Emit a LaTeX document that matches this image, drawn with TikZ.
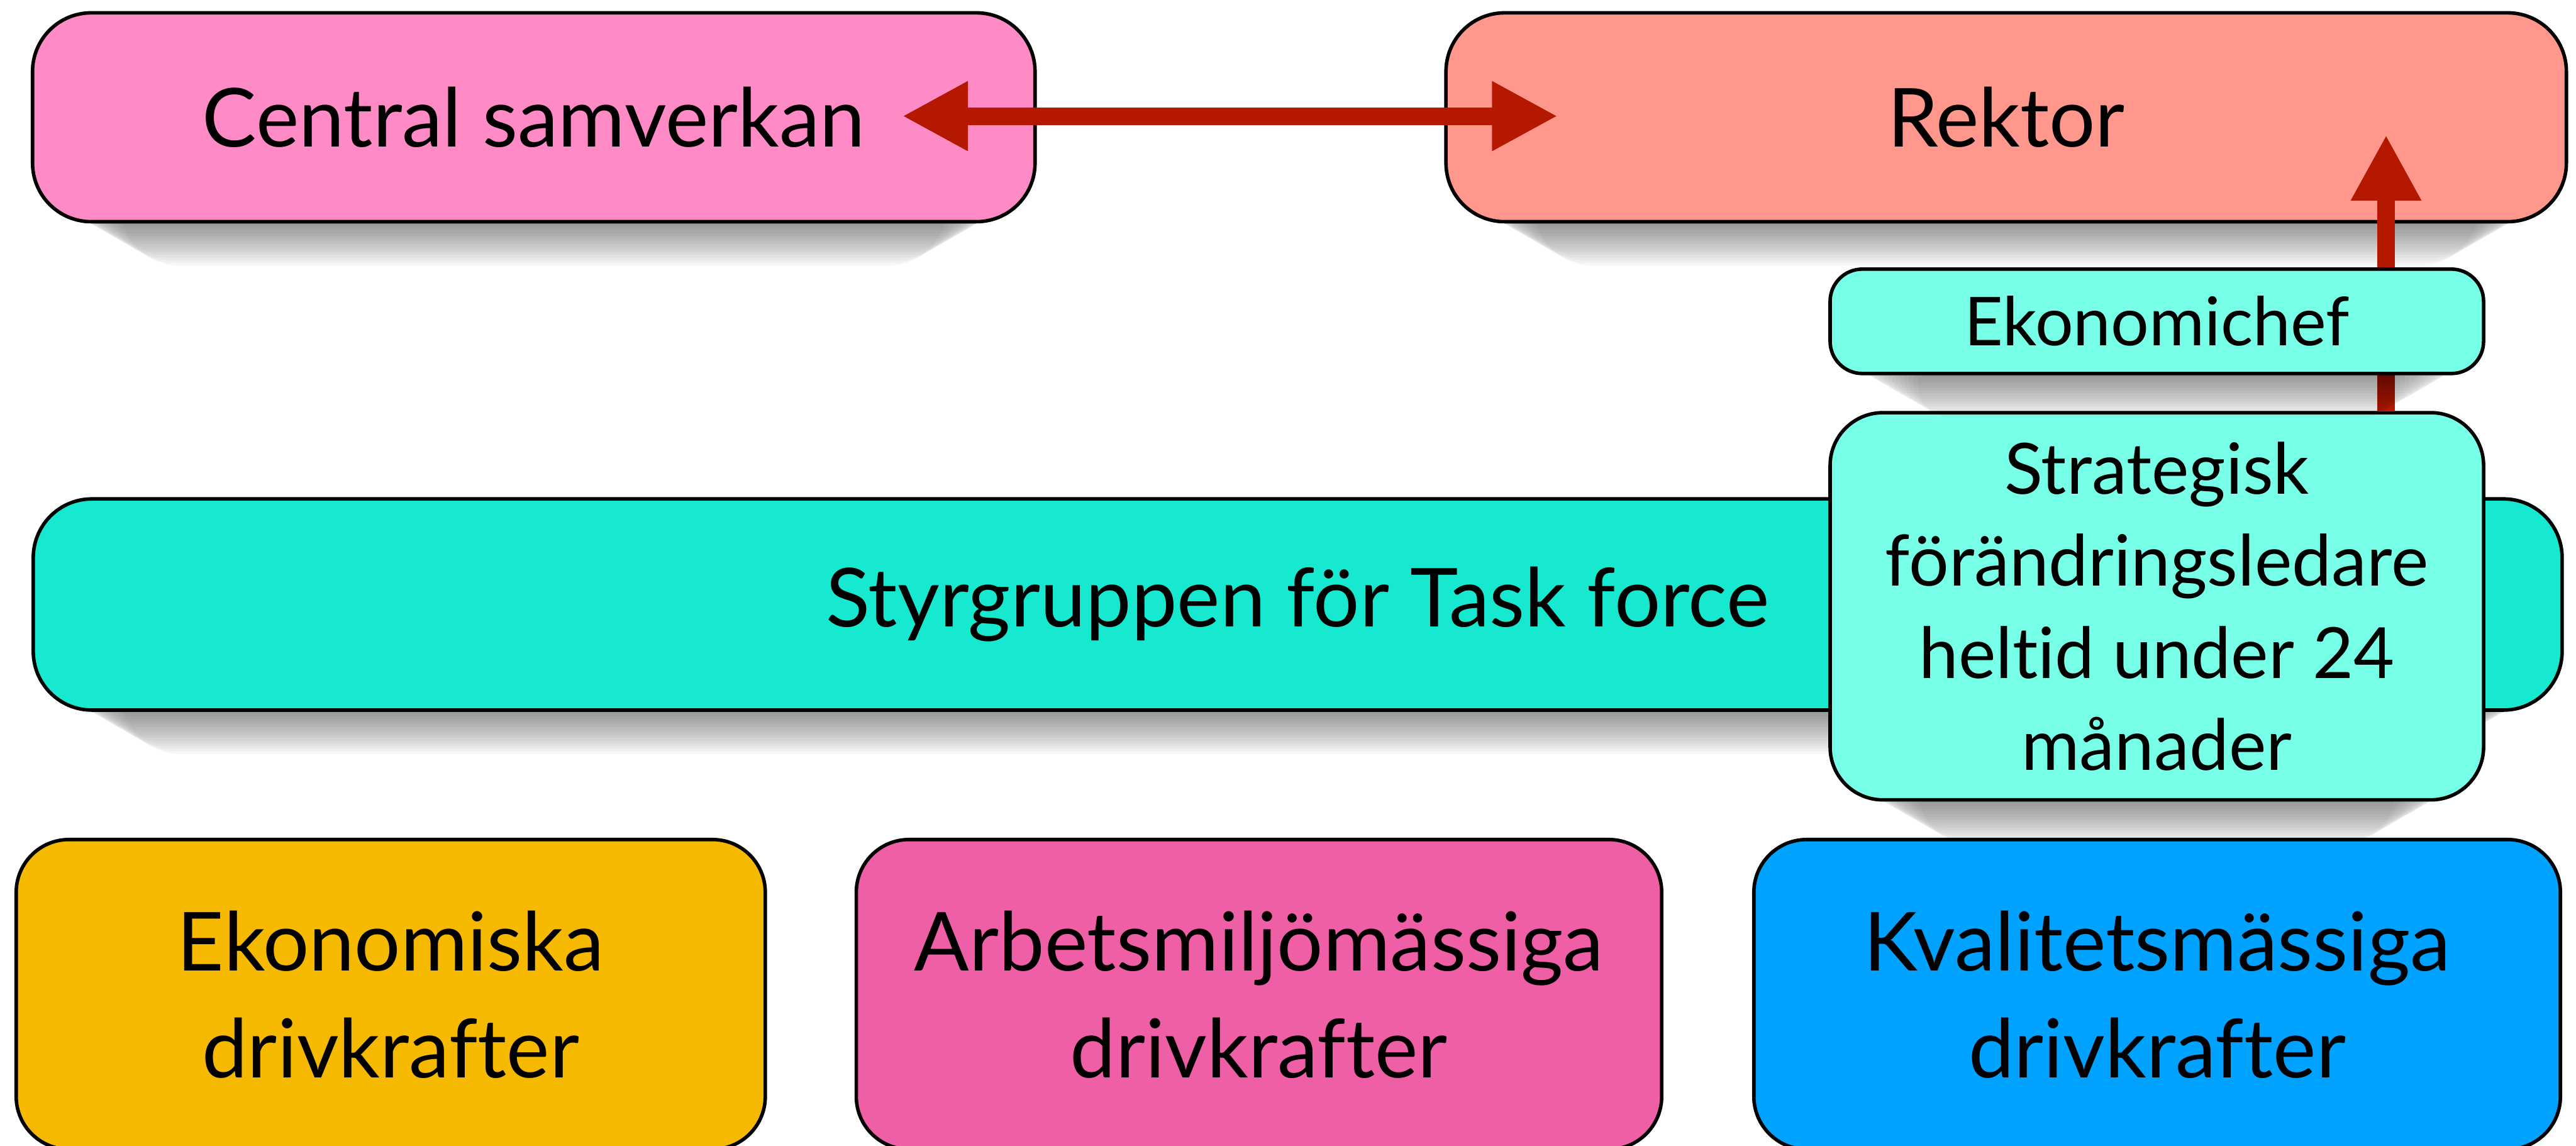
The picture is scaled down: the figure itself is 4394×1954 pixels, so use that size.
\documentclass[tikz,border=0pt]{standalone}
\usepackage{fontspec}
\setmainfont{Lato}[Ligatures=NoCommon]
\usetikzlibrary{arrows.meta,calc}

\definecolor{cspink}{HTML}{FF8BC6}
\definecolor{rksalmon}{HTML}{FF978D}
\definecolor{styrteal}{HTML}{17E8D0}
\definecolor{lightteal}{HTML}{78FFE8}
\definecolor{ekgold}{HTML}{F5B900}
\definecolor{awpink}{HTML}{EE5FA5}
\definecolor{kvblue}{HTML}{00A2FF}
\definecolor{arrowred}{HTML}{B41900}

% soft drop shadow under a box: x1, y1, x2, y2 (pixel units), corner radius
\newcommand\boxshadow[5]{%
  \foreach \i in {0,...,15}{%
    \fill[black, opacity=0.032, rounded corners=#5]
      ({#1+30+\i*8},{#4-120}) rectangle ({#3-30-\i*8},{#4+6+\i*4.6});
  }%
}

\tikzset{
  box/.style={draw=black, line width=1.7pt, rounded corners=1cm,
    align=center, inner sep=0pt},
  bigtext/.style={font=\fontsize{39.5}{51.8}\selectfont},
  midtext/.style={font=\fontsize{34.3}{44.7}\selectfont},
  smalltext/.style={font=\fontsize{32.7}{40}\selectfont},
  redarrow/.style={draw=arrowred, line width=0.3cm}
}

\begin{document}
\begin{tikzpicture}[x=0.01cm, y=-0.01cm]
\useasboundingbox (0,0) rectangle (4394,1954);
\clip (0,0) rectangle (4394,1954);

% top row
\boxshadow{56}{22}{1765}{378}{1cm}
\boxshadow{2467}{22}{4377}{378}{1cm}
\node[box, bigtext, fill=cspink, minimum width=17.09cm, minimum height=3.56cm]
  (central) at (910.5,200) {Central samverkan};
\node[box, bigtext, fill=rksalmon, minimum width=19.10cm, minimum height=3.56cm]
  (rektor) at (3422,200) {Rektor};

% two-way link between central samverkan and rektor
\coordinate (csTip) at (1539,198);
\coordinate (rkTipH) at (2657,198);
\draw[redarrow, {Triangle[length=1.12cm, width=1.11cm]}-{Triangle[length=1.12cm, width=1.11cm]}]
  (csTip) -- (rkTipH);

% steering group band
\boxshadow{58}{851}{4369}{1211}{1cm}
\node[box, bigtext, fill=styrteal, minimum width=43.11cm, minimum height=3.60cm]
  (styr) at (2213.5,1031) {Styrgruppen för Task force};

% change leader
\boxshadow{3122}{704}{4236}{1364}{0.9cm}
\node[box, midtext, fill=lightteal, rounded corners=0.9cm,
  minimum width=11.14cm, minimum height=6.60cm]
  (strat) at (3679,1034) {Strategisk\\förändringsledare\\heltid under 24\\månader};

% reporting line up to rektor
\coordinate (rkTipV) at (4070,230);
\draw[redarrow, -{Triangle[length=1.12cm, width=1.12cm]}]
  (rkTipV |- strat.north) -- (rkTipV);

% finance manager
\boxshadow{3122}{459}{4236}{637}{0.55cm}
\node[box, smalltext, fill=lightteal, rounded corners=0.55cm,
  minimum width=11.14cm, minimum height=1.78cm]
  (ekchef) at (3679,548) {Ekonomichef};

% driving forces
\node[box, bigtext, fill=ekgold, rounded corners=0.9cm,
  minimum width=12.77cm, minimum height=5.28cm]
  (ekon) at (666.5,1696) {Ekonomiska\\drivkrafter};
\node[box, bigtext, fill=awpink, rounded corners=0.9cm,
  minimum width=13.73cm, minimum height=5.28cm]
  (arbets) at (2147.5,1696) {Arbetsmiljömässiga\\drivkrafter};
\node[box, bigtext, fill=kvblue, rounded corners=0.9cm,
  minimum width=13.75cm, minimum height=5.28cm]
  (kval) at (3679.5,1696) {Kvalitetsmässiga\\drivkrafter};
\end{tikzpicture}
\end{document}
